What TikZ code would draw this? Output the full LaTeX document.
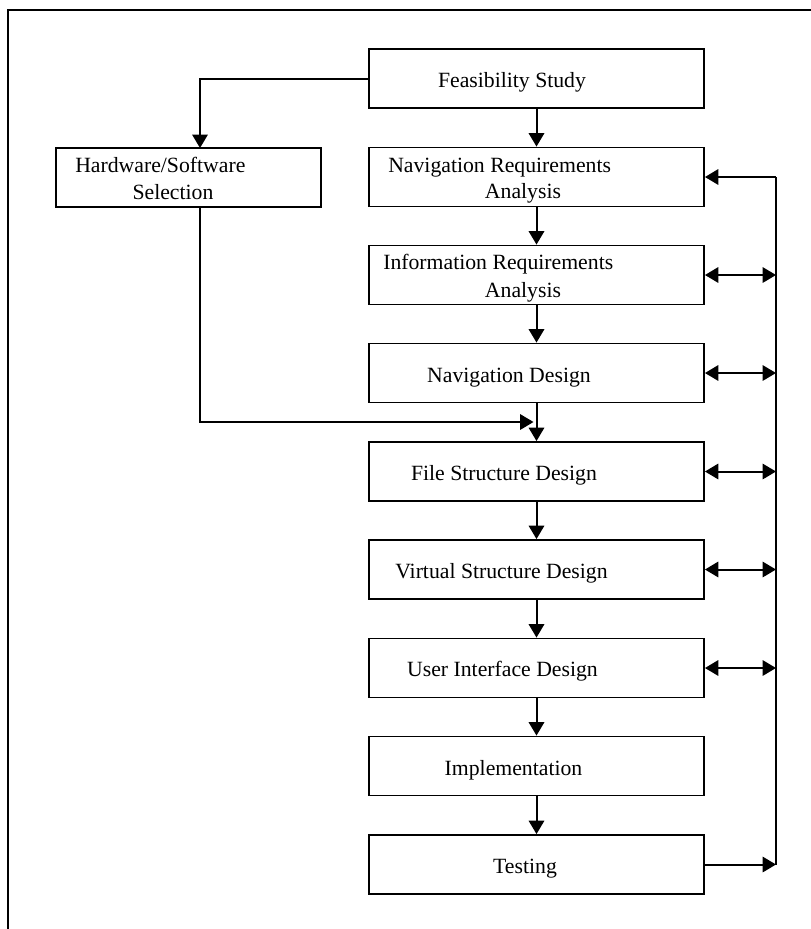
\documentclass[tikz,border=0pt]{standalone}
\usepackage{fontspec}
\setmainfont{Liberation Serif}
\usetikzlibrary{arrows.meta,calc}

\tikzset{
  stage/.style={draw, line width=1.4pt, minimum width=251.25pt, minimum height=44.25pt, inner sep=0pt},
  sidebox/.style={stage, minimum width=198.75pt},
  label/.style={inner sep=0pt, font=\fontsize{16.3}{19}\selectfont},
  link/.style={line width=1.5pt},
  arr/.style={link, -{Triangle[length=10pt,width=11.5pt]}},
  biarr/.style={link, {Triangle[length=10pt,width=11.5pt]}-{Triangle[length=10pt,width=11.5pt]}}
}

\begin{document}
\begin{tikzpicture}[x=0.75pt,y=-0.75pt]
  \useasboundingbox (0,0) rectangle (811,929);
  \fill[white] (0,0) rectangle (811,929);

  % outer frame, running off the right and bottom edges
  \begin{scope}
    \clip (0,0) rectangle (811,929);
    \draw[line width=1.6pt] (8,10) rectangle (840,960);
  \end{scope}

  % process boxes
  \node[stage]   (feas)  at (536.5,78.5) {};
  \node[sidebox] (hw)    at (188.5,177.5) {};
  \node[stage]   (navreq) at (536.5,177) {};
  \node[stage]   (info)  at (536.5,275) {};
  \node[stage]   (navdes) at (536.5,373) {};
  \node[stage]   (file)  at (536.5,471.5) {};
  \node[stage]   (virt)  at (536.5,569.5) {};
  \node[stage]   (ui)    at (536.5,668) {};
  \node[stage]   (impl)  at (536.5,766) {};
  \node[stage]   (test)  at (536.5,864.5) {};

  % box texts
  \node[label, anchor=base] (tfeas) at (512,87) {Feasibility Study};
  \node[label, anchor=base west] (thw1) at (75,172) {Hardware/Software};
  \node[label, anchor=base] (thw2) at (173,199.5) {Selection};
  \node[label, anchor=base west] (tnr1) at (388,172) {Navigation Requirements};
  \node[label, anchor=base] (tnr2) at (523,198.5) {Analysis};
  \node[label, anchor=base west] (tir1) at (383,269.5) {Information Requirements};
  \node[label, anchor=base] (tir2) at (523,297) {Analysis};
  \node[label, anchor=base] (tnd) at (509,382) {Navigation Design};
  \node[label, anchor=base] (tfs) at (504,480) {File Structure Design};
  \node[label, anchor=base] (tvs) at (501.5,578) {Virtual Structure Design};
  \node[label, anchor=base] (tui) at (502.5,676) {User Interface Design};
  \node[label, anchor=base] (tim) at (513.5,775) {Implementation};
  \node[label, anchor=base] (tte) at (525,873) {Testing};

  % helper points
  \coordinate (hwin)  at (200,148);
  \coordinate (hwout) at (200,207);
  \coordinate (join)  at (536.5,422);
  \coordinate (fbtop) at (776,177);
  \coordinate (fbbot) at (776,864.5);

  % main sequence
  \draw[arr] (feas) -- (navreq);
  \draw[arr] (navreq) -- (info);
  \draw[arr] (info) -- (navdes);
  \draw[arr] (navdes) -- (file);
  \draw[arr] (file) -- (virt);
  \draw[arr] (virt) -- (ui);
  \draw[arr] (ui) -- (impl);
  \draw[arr] (impl) -- (test);

  % hardware/software branch
  \draw[arr] (feas.west) -| (hwin);
  \draw[arr, shorten >=2.25pt] (hwout) |- (join);

  % feedback loop on the right
  \draw[link] (fbtop) -- (fbbot);
  \draw[arr] (fbtop) -- (navreq.east);
  \draw[biarr] (info.east) -- (info.east -| fbtop);
  \draw[biarr] (navdes.east) -- (navdes.east -| fbtop);
  \draw[biarr] (file.east) -- (file.east -| fbtop);
  \draw[biarr] (virt.east) -- (virt.east -| fbtop);
  \draw[biarr] (ui.east) -- (ui.east -| fbtop);
  \draw[arr] (test.east) -- (fbbot);
\end{tikzpicture}
\end{document}
